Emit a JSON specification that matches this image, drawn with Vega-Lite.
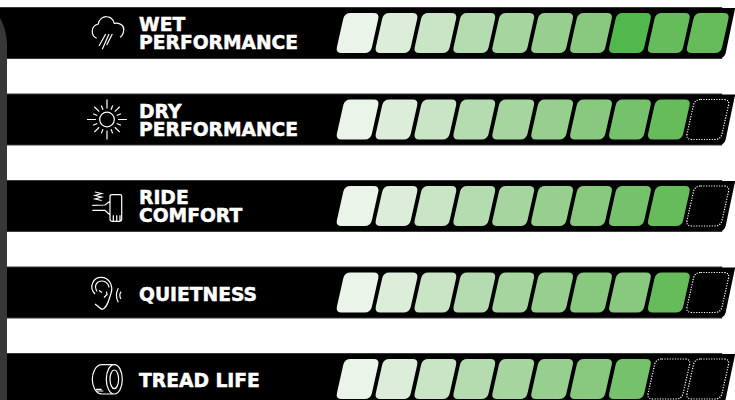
{
"$schema":"https://vega.github.io/schema/vega-lite/v6.json",
"width":735,"height":400,"padding":0,"autosize":{"type":"none"},
"background":"#ffffff",
"config":{"view":{"stroke":null}},
"datasets":{
"rows":[
{"row":1,"metric":"wet","bandStart":-8.19,"bandEnd":10.37,"capAt":10.37,"iconAt":-5.44},
{"row":2,"metric":"dry","bandStart":-8.19,"bandEnd":10.37,"capAt":10.37,"iconAt":-5.44},
{"row":3,"metric":"ride","bandStart":-8.19,"bandEnd":10.37,"capAt":10.37,"iconAt":-5.44},
{"row":4,"metric":"quiet","bandStart":-8.19,"bandEnd":10.37,"capAt":10.37,"iconAt":-5.44},
{"row":5,"metric":"tread","bandStart":-8.19,"bandEnd":10.37,"capAt":10.37,"iconAt":-5.44}
],
"labels":[
{"row":0.913,"line":"WET","textAt":-4.617},
{"row":1.118,"line":"PERFORMANCE","textAt":-4.617},
{"row":1.913,"line":"DRY","textAt":-4.617},
{"row":2.118,"line":"PERFORMANCE","textAt":-4.617},
{"row":2.913,"line":"RIDE","textAt":-4.617},
{"row":3.118,"line":"COMFORT","textAt":-4.617},
{"row":4.025,"line":"QUIETNESS","textAt":-4.617},
{"row":5.024,"line":"TREAD LIFE","textAt":-4.617}
],
"segments":[
{"row":1,"seg":1,"state":"on","shade":"s1"},{"row":1,"seg":2,"state":"on","shade":"s2"},{"row":1,"seg":3,"state":"on","shade":"s3"},{"row":1,"seg":4,"state":"on","shade":"s4"},{"row":1,"seg":5,"state":"on","shade":"s5"},{"row":1,"seg":6,"state":"on","shade":"s6"},{"row":1,"seg":7,"state":"on","shade":"s7"},{"row":1,"seg":8,"state":"on","shade":"s8w"},{"row":1,"seg":9,"state":"on","shade":"s9"},{"row":1,"seg":10,"state":"on","shade":"s9"},
{"row":2,"seg":1,"state":"on","shade":"s1"},{"row":2,"seg":2,"state":"on","shade":"s2"},{"row":2,"seg":3,"state":"on","shade":"s3"},{"row":2,"seg":4,"state":"on","shade":"s4"},{"row":2,"seg":5,"state":"on","shade":"s5"},{"row":2,"seg":6,"state":"on","shade":"s6"},{"row":2,"seg":7,"state":"on","shade":"s7"},{"row":2,"seg":8,"state":"on","shade":"s8"},{"row":2,"seg":9,"state":"on","shade":"s9"},{"row":2,"seg":10,"state":"off","shade":"none"},
{"row":3,"seg":1,"state":"on","shade":"s1"},{"row":3,"seg":2,"state":"on","shade":"s2"},{"row":3,"seg":3,"state":"on","shade":"s3"},{"row":3,"seg":4,"state":"on","shade":"s4"},{"row":3,"seg":5,"state":"on","shade":"s5"},{"row":3,"seg":6,"state":"on","shade":"s6"},{"row":3,"seg":7,"state":"on","shade":"s7"},{"row":3,"seg":8,"state":"on","shade":"s8"},{"row":3,"seg":9,"state":"on","shade":"s9"},{"row":3,"seg":10,"state":"off","shade":"none"},
{"row":4,"seg":1,"state":"on","shade":"s1"},{"row":4,"seg":2,"state":"on","shade":"s2"},{"row":4,"seg":3,"state":"on","shade":"s3"},{"row":4,"seg":4,"state":"on","shade":"s4"},{"row":4,"seg":5,"state":"on","shade":"s5"},{"row":4,"seg":6,"state":"on","shade":"s6"},{"row":4,"seg":7,"state":"on","shade":"s7"},{"row":4,"seg":8,"state":"on","shade":"s7"},{"row":4,"seg":9,"state":"on","shade":"s9"},{"row":4,"seg":10,"state":"off","shade":"none"},
{"row":5,"seg":1,"state":"on","shade":"s1"},{"row":5,"seg":2,"state":"on","shade":"s2"},{"row":5,"seg":3,"state":"on","shade":"s3"},{"row":5,"seg":4,"state":"on","shade":"s4"},{"row":5,"seg":5,"state":"on","shade":"s5"},{"row":5,"seg":6,"state":"on","shade":"s6"},{"row":5,"seg":7,"state":"on","shade":"s7"},{"row":5,"seg":8,"state":"on","shade":"s8"},{"row":5,"seg":9,"state":"off","shade":"none"},{"row":5,"seg":10,"state":"off","shade":"none"}
]},
"data":{"name":"rows"},
"encoding":{
"y":{"field":"row","type":"quantitative","axis":null,"scale":{"domain":[5.2428,0.6185],"nice":false,"zero":false}}
},
"layer":[
{"mark":{"type":"rule","stroke":"#3a3a3a","strokeWidth":52,"strokeCap":"butt"},
 "encoding":{"x":{"field":"bandStart","type":"quantitative","axis":null,"scale":{"domain":[-8.19,10.7],"nice":false,"zero":false}},"x2":{"field":"bandEnd"}}},
{"mark":{"type":"rule","stroke":"#000000","strokeWidth":50,"strokeCap":"butt"},
 "encoding":{"x":{"field":"bandStart","type":"quantitative","axis":null},"x2":{"field":"bandEnd"}}},
{"mark":{"type":"point","filled":true,"fill":"#000000","opacity":1,"size":2500,"strokeWidth":0,"shape":"M-0.1,-1 L0.52,-1 L0.14,0.8 Q0.09,1 -0.1,1 Z"},
 "encoding":{"x":{"field":"capAt","type":"quantitative","axis":null}}},
{"data":{"name":"segments"},"transform":[{"filter":"datum.state==='on'"}],
 "mark":{"type":"point","filled":true,"opacity":1,"size":2500,"strokeWidth":0,"shape":"M-0.28,-0.8 L0.64,-0.8 Q0.88,-0.8 0.828,-0.568 L0.572,0.568 Q0.52,0.8 0.28,0.8 L-0.64,0.8 Q-0.88,0.8 -0.828,0.568 L-0.572,-0.568 Q-0.52,-0.8 -0.28,-0.8 Z"},
 "encoding":{"x":{"field":"seg","type":"quantitative","axis":null},"color":{"field":"shade","type":"nominal","legend":null,"scale":{"domain":["s1","s2","s3","s4","s5","s6","s7","s8","s8w","s9"],"range":["#EAF4E9","#DCEEDA","#C9E5C5","#B5DCB0","#A6D5A0","#96CF8E","#88C97F","#76C26C","#50B84D","#66BC5B"]}}}},
{"data":{"name":"segments"},"transform":[{"filter":"datum.state==='off'"}],
 "mark":{"type":"point","filled":false,"opacity":1,"size":2500,"stroke":"#ffffff","strokeWidth":1.2,"strokeDash":[1.2,1.4],"shape":"M-0.28,-0.8 L0.64,-0.8 Q0.88,-0.8 0.828,-0.568 L0.572,0.568 Q0.52,0.8 0.28,0.8 L-0.64,0.8 Q-0.88,0.8 -0.828,0.568 L-0.572,-0.568 Q-0.52,-0.8 -0.28,-0.8 Z"},
 "encoding":{"x":{"field":"seg","type":"quantitative","axis":null}}},
{"mark":{"type":"point","filled":false,"opacity":1,"size":400,"stroke":"#ffffff","strokeWidth":1.2},
 "encoding":{"x":{"field":"iconAt","type":"quantitative","axis":null},
 "shape":{"field":"metric","type":"nominal","legend":null,"scale":{"domain":["wet","dry","ride","quiet","tread"],"range":[
 "M-1.03,0.53 C-1.6,0.3 -1.7,-0.7 -0.87,-0.9 C-0.8,-1.4 -0.4,-1.65 -0.03,-1.63 C0.3,-1.63 0.65,-1.35 0.73,-0.97 C1.3,-1.1 1.75,-0.7 1.67,-0.3 C1.65,0.05 1.5,0.3 1.3,0.43 M-0.13,0.1 L-0.8,1.3 M0.2,0.1 L-0.47,1.63 M0.53,0.1 L-0.03,1.2",
 "M0.73,0 A0.73,0.73 0 1 1 -0.73,0 A0.73,0.73 0 1 1 0.73,0 Z M0,-1.1 L0,-2 M0,1.1 L0,2 M1.1,0 L2,0 M-1.1,0 L-2,0 M0.78,0.78 L1.27,1.27 M-0.78,0.78 L-1.27,1.27 M0.78,-0.78 L1.27,-1.27 M-0.78,-0.78 L-1.27,-1.27 M0.97,0.4 L1.39,0.57 M-0.97,0.4 L-1.39,0.57 M0.97,-0.4 L1.39,-0.57 M-0.97,-0.4 L-1.39,-0.57 M0.4,0.97 L0.57,1.39 M-0.4,0.97 L-0.57,1.39 M0.4,-0.97 L0.57,-1.39 M-0.4,-0.97 L-0.57,-1.39",
 "M0.5,-1.13 L1.3,-1.13 Q1.47,-1.13 1.47,-0.95 L1.47,1.3 Q1.47,1.53 1.2,1.53 L0.5,1.53 Q0.3,1.53 0.3,1.3 L0.3,-0.95 Q0.3,-1.13 0.5,-1.13 Z M0.63,0.93 L0.63,1.53 M0.97,0.93 L0.97,1.53 M1.3,0.93 L1.3,1.53 M0.3,-0.47 L-0.2,-0.1 L-1.47,-0.07 M-1.47,0.43 L-0.2,0.43 L0.3,0.9 M-1.2,-1.4 L-0.53,-1.25 L-1.2,-1.05 L-0.53,-0.9 L-1.2,-0.7 L-0.53,-0.55",
 "M-1.2,0.15 C-1.87,-0.58 -1.37,-1.52 -0.6,-1.52 C0.3,-1.52 0.63,-0.58 0.4,0.08 C0.2,0.75 -0.03,1.68 -0.53,1.68 L-1.2,1.15 M-1,-0.1 C-1.4,-0.8 -0.9,-1.15 -0.5,-1.15 C-0.1,-1.15 0.2,-0.8 0.2,-0.5 M-0.8,-0.2 L-0.5,0 M-0.3,0.5 L0,0.2 L-0.05,-0.1 M1.13,-0.42 Q0.75,0.3 1.13,0.98 M1.4,-0.08 Q1.15,0.3 1.4,0.65",
 "M1.53,0.03 A0.8,1.47 0 1 1 -0.07,0.03 A0.8,1.47 0 1 1 1.53,0.03 Z M1.16,0.03 A0.43,0.93 0 1 1 0.3,0.03 A0.43,0.93 0 1 1 1.16,0.03 Z M0.73,-1.44 L-0.5,-1.44 C-1.2,-1.44 -1.47,-0.5 -1.47,0.03 C-1.47,0.6 -1.2,1.5 -0.5,1.5 L0.73,1.5 M-1.1,1.03 L-0.53,1.03 M-1.1,1.2 L-0.37,1.2"
 ]}}}},
{"data":{"name":"labels"},
 "mark":{"type":"text","align":"left","baseline":"middle","font":"DejaVu Sans","fontWeight":"bold","fontSize":18.7,"fill":"#ffffff","stroke":"#ffffff","strokeWidth":0.5},
 "encoding":{"x":{"field":"textAt","type":"quantitative","axis":null},"text":{"field":"line","type":"nominal"}}},
{"data":{"values":[{"row":1,"stripAt":-8.19}]},
 "mark":{"type":"point","filled":true,"fill":"#37373b","opacity":1,"size":2500,"strokeWidth":0,"shape":"M0,-0.6 Q0.24,-0.2 0.28,0.4 L0.28,16 L0,16 Z"},
 "encoding":{"x":{"field":"stripAt","type":"quantitative","axis":null}}}
]
}
